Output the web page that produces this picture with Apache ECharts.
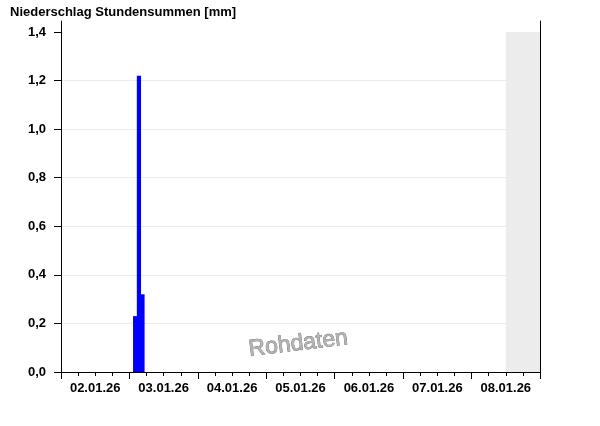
<!DOCTYPE html>
<html>
<head>
<meta charset="utf-8">
<script src="https://cdn.jsdelivr.net/npm/echarts@6/dist/echarts.min.js"></script>
<style>
html,body{margin:0;padding:0;background:#fff;}
#c{width:600px;height:426px;}
</style>
</head>
<body>
<div id="c"></div>
<script>
// ---- data ----
const titleText = 'Niederschlag Stundensummen [mm]';
const startTime = '2026-01-02T00:00';
const endTime = '2026-01-09T00:00';
const futureStart = '2026-01-08T12:00';
const barTimes = ['2026-01-03T02:00', '2026-01-03T03:20', '2026-01-03T04:35'];
const barValues = [0.23, 1.22, 0.32];
const yTicks = [0, 0.2, 0.4, 0.6, 0.8, 1.0, 1.2, 1.4];
const dayLabels = ['02.01.26', '03.01.26', '04.01.26', '05.01.26', '06.01.26', '07.01.26', '08.01.26'];
const watermark = 'Rohdaten';

// ---- helpers ----
const t0 = Date.parse(startTime);
const hrs = t => (Date.parse(t) - t0) / 3600000;
const xMax = hrs(endTime);
const dayMids = dayLabels.map((d, i) => i * 24 + 12);
const yMax = 1.445;
const font = '"Liberation Sans", Arial, sans-serif';

const chart = echarts.init(document.getElementById('c'), null, {renderer: 'canvas'});
chart.setOption({
  animation: false,
  backgroundColor: '#fff',
  title: {
    text: titleText, left: 5, top: 1,
    textStyle: {fontFamily: font, fontSize: 13, fontWeight: 'bold', color: '#000'}
  },
  grid: {left: 61, right: 60, top: 21, bottom: 54, containLabel: false},
  xAxis: [{
    type: 'value', min: 0, max: xMax, interval: 24, position: 'bottom',
    axisLine: {show: true, onZero: false, lineStyle: {color: '#000', width: 1}},
    axisTick: {show: true, length: 7, lineStyle: {color: '#000'}},
    minorTick: {show: true, splitNumber: 4, length: 4, lineStyle: {color: '#000'}},
    splitLine: {show: false},
    axisLabel: {
      customValues: dayMids, margin: 10,
      fontFamily: font, fontSize: 13, fontWeight: 'bold', color: '#000',
      formatter: v => dayLabels[Math.round((v - 12) / 24)] || ''
    }
  }],
  yAxis: [{
    type: 'value', min: 0, max: yMax, interval: 0.2,
    axisLine: {show: true, lineStyle: {color: '#000', width: 1}},
    axisTick: {show: true, length: 7, customValues: yTicks, lineStyle: {color: '#000'}},
    splitLine: {show: true, showMaxLine: false, lineStyle: {color: '#ebebeb', width: 1}},
    axisLabel: {
      customValues: yTicks, margin: 15,
      fontFamily: font, fontSize: 13, fontWeight: 'bold', color: '#000',
      formatter: v => v.toFixed(1).replace('.', ',')
    }
  }, {
    type: 'value', min: 0, max: yMax, position: 'right',
    axisLine: {show: true, lineStyle: {color: '#000', width: 1}},
    axisTick: {show: false}, axisLabel: {show: false}, splitLine: {show: false}
  }],
  series: [{
    type: 'bar',
    barWidth: 4.2,
    itemStyle: {color: '#0000ff', borderWidth: 0},
    data: barTimes.map((t, i) => [hrs(t), barValues[i]]),
    markArea: {
      silent: true,
      itemStyle: {color: '#ececec'},
      data: [[{xAxis: hrs(futureStart), yAxis: 0}, {xAxis: xMax, yAxis: 1.4}]]
    }
  }],
  graphic: [{
    type: 'text', left: 247, top: 326, rotation: 0.12,
    style: {
      text: watermark, font: '23px ' + font, fill: '#b4b4b4',
      stroke: '#666', lineWidth: 0.7
    }
  }]
});
</script>
</body>
</html>
